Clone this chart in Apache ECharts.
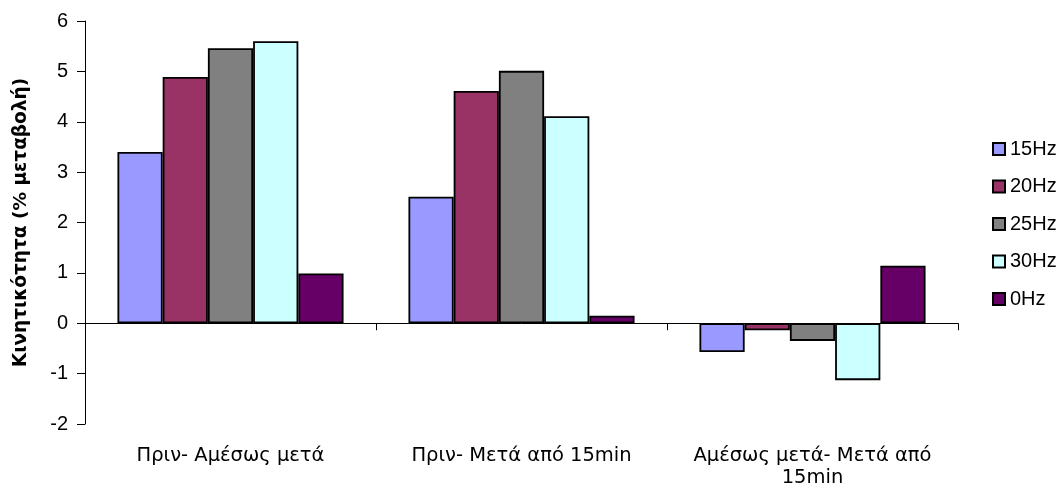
<!DOCTYPE html>
<html>
<head>
<meta charset="utf-8">
<script src="https://cdn.jsdelivr.net/npm/echarts@6/dist/echarts.min.js"></script>
<style>html,body{margin:0;padding:0;background:#fff}#c{width:1061px;height:495px}</style>
</head>
<body>
<div id="c"></div>
<script>
const categories = ['Πριν- Αμέσως μετά', 'Πριν- Μετά από 15min', 'Αμέσως μετά- Μετά από\n15min'];
const seriesNames = ['15Hz', '20Hz', '25Hz', '30Hz', '0Hz'];
const s15 = [3.4, 2.51, -0.57];
const s20 = [4.89, 4.61, -0.14];
const s25 = [5.46, 5.01, -0.35];
const s30 = [5.6, 4.11, -1.13];
const s0 = [0.99, 0.15, 1.14];
const yTicks = [-2, -1, 0, 1, 2, 3, 4, 5, 6];
const colors = ['#9999FF', '#993366', '#808080', '#CCFFFF', '#660066'];
const values = [s15, s20, s25, s30, s0];

const font = 'Liberation Sans, Arial, sans-serif';
const greekFont = 'DejaVu Sans, sans-serif';
const chart = echarts.init(document.getElementById('c'));
chart.setOption({
  animation: false,
  textStyle: { fontFamily: font },
  grid: { left: 85, top: 21, right: 103, bottom: 71 },
  legend: {
    orient: 'vertical', left: 987, top: 134,
    itemWidth: 12, itemHeight: 12, itemGap: 17.5,
    icon: 'rect',
    textStyle: { fontSize: 20, color: '#000', fontFamily: font, lineHeight: 20 },
    data: seriesNames
  },
  xAxis: [{
    type: 'category', data: categories,
    axisLine: { onZero: true, lineStyle: { color: '#000', width: 1 } },
    axisTick: { show: true, length: 7, lineStyle: { color: '#000' } },
    axisLabel: { show: false }
  }, {
    type: 'category', data: categories, position: 'bottom',
    axisLine: { show: false, onZero: false }, axisTick: { show: false },
    axisLabel: {
      interval: 0, hideOverlap: false,
      margin: 21, fontSize: 19.5, color: '#000', fontFamily: greekFont,
      lineHeight: 22
    }
  }],
  yAxis: {
    type: 'value', min: yTicks[0], max: yTicks[yTicks.length - 1], interval: 1,
    name: 'Κινητικότητα (% μεταβολή)', nameLocation: 'middle', nameGap: 54,
    nameTextStyle: { fontSize: 18.5, fontWeight: 'bold', color: '#000', fontFamily: greekFont },
    axisLine: { show: true, lineStyle: { color: '#000' } },
    axisTick: { show: true, length: 8, lineStyle: { color: '#000' } },
    axisLabel: { fontSize: 20, color: '#000', margin: 17, fontFamily: font },
    splitLine: { show: false }
  },
  series: seriesNames.map((n, i) => ({
    name: n, type: 'bar', data: values[i], xAxisIndex: 0,
    barGap: '0%', barCategoryGap: '22.3%',
    itemStyle: { color: colors[i], borderColor: '#000', borderWidth: 1.8 }
  }))
});
</script>
</body>
</html>
